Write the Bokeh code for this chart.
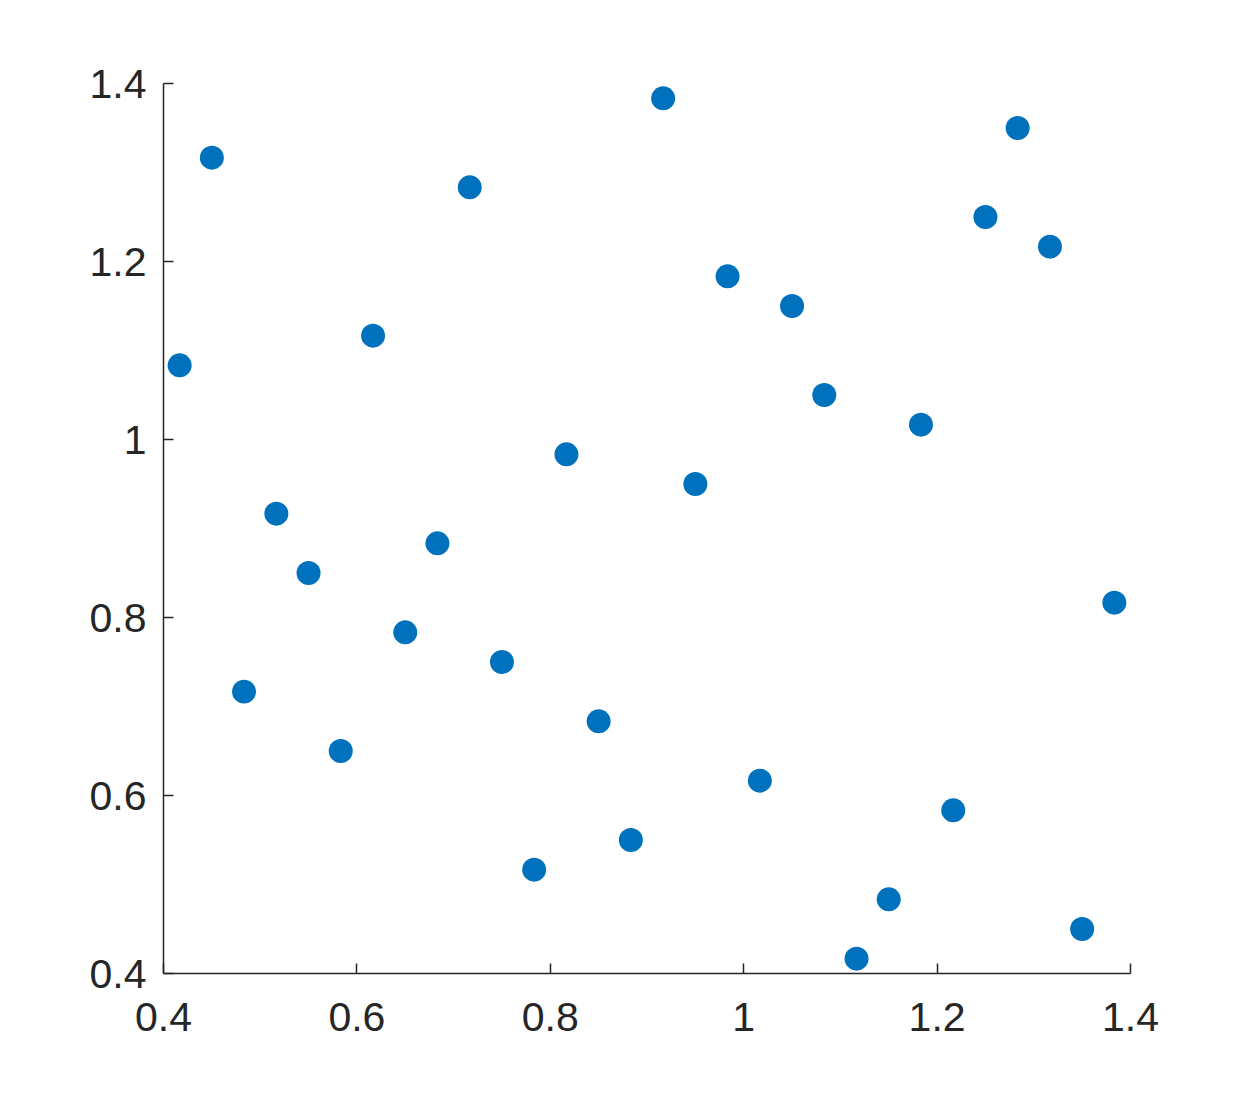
from bokeh.plotting import figure
from bokeh.models import Range1d, FixedTicker, CustomJSTickFormatter
from bokeh.embed import file_html
from bokeh.resources import INLINE

x_vals = [0.4167, 0.4500, 0.4833, 0.5167, 0.5500, 0.5833, 0.6167, 0.6500, 0.6833, 0.7167,
          0.7500, 0.7833, 0.8167, 0.8500, 0.8833, 0.9167, 0.9500, 0.9833, 1.0167, 1.0500,
          1.0833, 1.1167, 1.1500, 1.1833, 1.2167, 1.2500, 1.2833, 1.3167, 1.3500, 1.3833]
y_vals = [1.0833, 1.3167, 0.7167, 0.9167, 0.8500, 0.6500, 1.1167, 0.7833, 0.8833, 1.2833,
          0.7500, 0.5167, 0.9833, 0.6833, 0.5500, 1.3833, 0.9500, 1.1833, 0.6167, 1.1500,
          1.0500, 0.4167, 0.4833, 1.0167, 0.5833, 1.2500, 1.3500, 1.2167, 0.4500, 0.8167]
ticks = [0.4, 0.6, 0.8, 1.0, 1.2, 1.4]

p = figure(width=1234, height=1078, output_backend="svg", toolbar_location=None,
           x_range=Range1d(0.4, 1.4), y_range=Range1d(0.4, 1.4),
           min_border_left=163, min_border_right=104, min_border_top=83, min_border_bottom=105)
p.outline_line_color = None
p.xgrid.visible = False
p.ygrid.visible = False
p.background_fill_color = "white"
p.border_fill_color = "white"

p.scatter(x_vals, y_vals, size=24, fill_color="#0072BD", line_color=None)

fmt = CustomJSTickFormatter(code="return String(Number(tick.toFixed(1)));")
for ax in (p.xaxis[0], p.yaxis[0]):
    ax.ticker = FixedTicker(ticks=ticks)
    ax.formatter = fmt
    ax.axis_line_color = "#262626"
    ax.axis_line_width = 1.5
    ax.major_tick_line_color = "#262626"
    ax.major_tick_line_width = 1.5
    ax.major_tick_in = 10
    ax.major_tick_out = 0
    ax.minor_tick_line_color = None
    ax.major_label_text_font = "Liberation Sans"
    ax.major_label_text_font_size = "41px"
    ax.major_label_text_color = "#262626"
p.yaxis[0].major_label_standoff = 17
p.xaxis[0].major_label_standoff = 29

open("out.html", "w").write(file_html(p, INLINE))
